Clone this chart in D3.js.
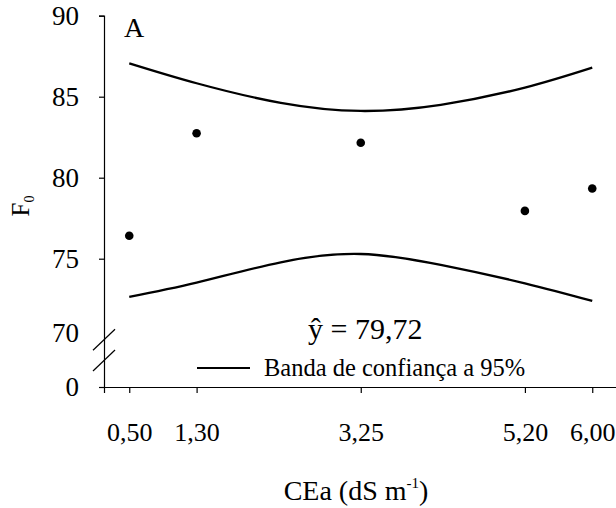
<!DOCTYPE html>
<html>
<head>
<meta charset="utf-8">
<script src="https://cdn.jsdelivr.net/npm/d3@7"></script>
<style>
  html, body { margin: 0; padding: 0; background: #fff; }
  svg { display: block; }
  svg text { font-family: "Liberation Serif", "Times New Roman", serif; }
</style>
</head>
<body>
<svg id="chart" width="616" height="508"></svg>
<script>
// Observed F0 at each irrigation water salinity level
const cea = [0.5, 1.3, 3.25, 5.2, 6.0];
const f0 = [76.42, 82.74, 82.16, 77.95, 79.33];

// 95% confidence band, read along the salinity range
const bandX = [0.5, 1.3, 2.3, 3.25, 4.2, 5.2, 6.0];
const bandUpper = [87.06, 85.83, 84.62, 84.12, 84.50, 85.56, 86.79];
const bandLower = [72.65, 73.52, 74.78, 75.29, 74.62, 73.48, 72.39];

// Tick labels
const xTicks = [0.5, 1.3, 3.25, 5.2, 6.0];
const yTicks = [0, 70, 75, 80, 85, 90];
const meanLabel = "79,72";

const serif = '"Liberation Serif", "Times New Roman", serif';
const svg = d3.select("#chart");
const fmtX = d3.format(".2f");
const comma = s => s.replace(".", ",");

// x: continuous salinity axis
const x = d3.scaleLinear().domain([0.2, 6.3]).range([104, 617.5]);
// y: broken axis, 0 sits just below the 70-90 segment
const y = d3.scaleLinear().domain([0, 70, 90]).range([387, 339.7, 15.7]);

// X axis
const gx = svg.append("g").attr("transform", `translate(0,${y(0)})`)
  .call(d3.axisBottom(x).tickValues(xTicks).tickSizeOuter(0).tickSize(6).tickPadding(30)
    .tickFormat(d => comma(fmtX(d))));
gx.attr("font-family", serif);
gx.select(".domain").attr("stroke", "#000").attr("stroke-width", 1.2);
gx.selectAll(".tick line").attr("stroke", "#000").attr("stroke-width", 1.2);
gx.selectAll(".tick text").style("font-family", serif).attr("font-size", 26).attr("fill", "#000");

// Y axis
const gy = svg.append("g").attr("transform", `translate(${x(0.2)},0)`)
  .call(d3.axisLeft(y).tickValues(yTicks).tickSizeOuter(0).tickSize(5).tickPadding(20)
    .tickFormat(d3.format("d")));
gy.attr("font-family", serif);
gy.select(".domain").attr("stroke", "#000").attr("stroke-width", 1.2);
gy.selectAll(".tick line").attr("stroke", "#000").attr("stroke-width", 1.2)
  .attr("display", d => d === 70 ? "none" : null);
gy.selectAll(".tick text").style("font-family", serif).attr("font-size", 27).attr("fill", "#000")
  .attr("dy", d => d === 70 ? "0.05em" : "0.32em");

// Axis break marks
const breakYs = [y(70), y(70) - (y(70) - y(0)) * 0.44];
svg.append("g").selectAll("line").data(breakYs).join("line")
  .attr("x1", x(0.2) - 11).attr("x2", x(0.2) + 11)
  .attr("y1", d => d + 10.5).attr("y2", d => d - 10.5)
  .attr("stroke", "#000").attr("stroke-width", 1.2);

// Confidence band curves
const bandLine = accessor => d3.line()
  .x((d, i) => x(bandX[i]))
  .y((d, i) => y(accessor[i]))
  .curve(d3.curveNatural);
[bandUpper, bandLower].forEach(arr => {
  svg.append("path")
    .attr("d", bandLine(arr)(bandX))
    .attr("fill", "none").attr("stroke", "#000").attr("stroke-width", 2.3);
});

// Observed points
svg.append("g").selectAll("circle").data(cea).join("circle")
  .attr("cx", d => x(d)).attr("cy", (d, i) => y(f0[i])).attr("r", 4.3).attr("fill", "#000");

// Panel letter
svg.append("text").attr("x", 124).attr("y", 37).attr("font-size", 28).text("A");

// Mean equation
svg.append("text").attr("x", 308).attr("y", 339).attr("font-size", 30)
  .text("\u0177 = " + meanLabel);

// Legend
svg.append("line").attr("x1", 197).attr("x2", 250).attr("y1", 368).attr("y2", 368)
  .attr("stroke", "#000").attr("stroke-width", 2);
svg.append("text").attr("x", 264).attr("y", 376).attr("font-size", 24.5)
  .text("Banda de confiança a 95%");

// Axis titles
const xt = svg.append("text").attr("x", 356).attr("y", 500).attr("text-anchor", "middle")
  .attr("font-size", 28);
xt.append("tspan").text("CEa (dS m");
xt.append("tspan").attr("font-size", 15).attr("dy", -12).text("-1");
xt.append("tspan").attr("dy", 12).text(")");

const yt = svg.append("text").attr("transform", "translate(29,206) rotate(-90)")
  .attr("text-anchor", "middle").attr("font-size", 25);
yt.append("tspan").text("F");
yt.append("tspan").attr("font-size", 14).attr("dy", 5).text("0");
</script>
</body>
</html>
